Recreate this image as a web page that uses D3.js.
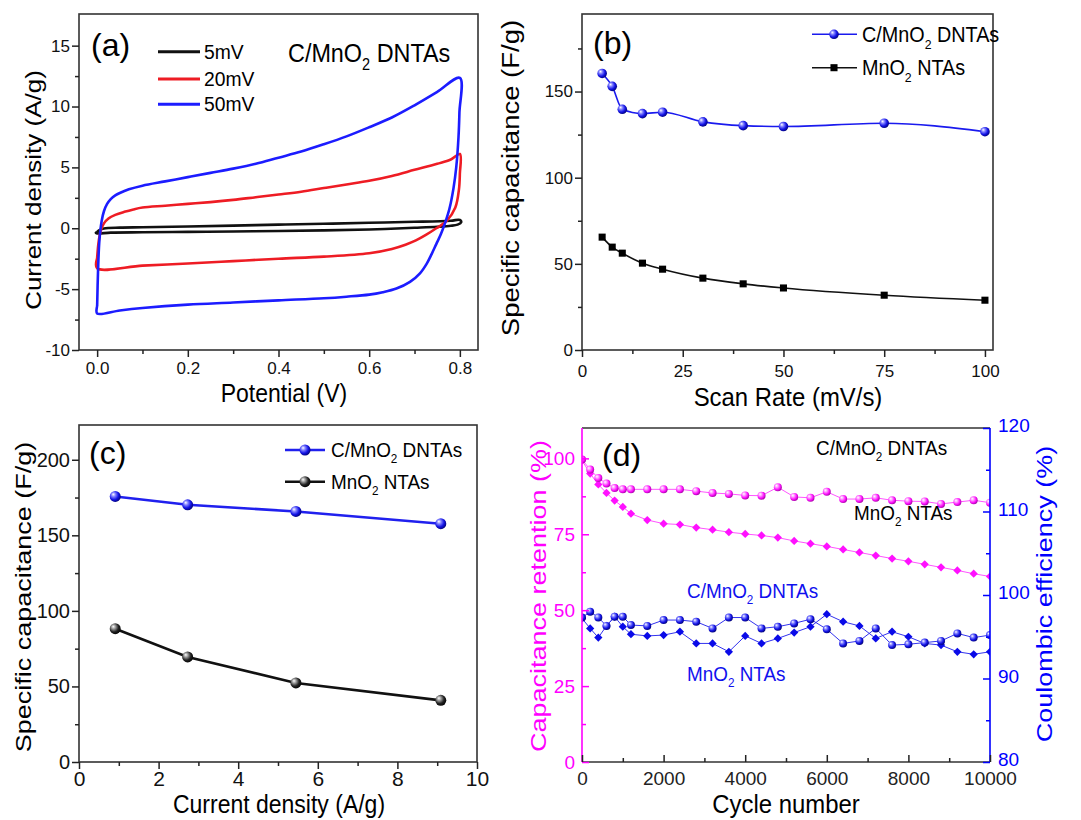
<!DOCTYPE html>
<html>
<head>
<meta charset="utf-8">
<script src="https://cdnjs.cloudflare.com/ajax/libs/d3/7.8.5/d3.min.js"></script>
<style>
  body { margin: 0; background: #fff; }
  svg { display: block; font-family: "Liberation Sans", Arial, sans-serif; }
</style>
</head>
<body>
<script>
// ---------- data ----------

// (a) cyclic voltammetry loops, [potential (V), current density (A/g)]
var cv5mV = [[0.0,-0.3],[0.005,-0.15],[0.015,-0.02],[0.05,0.05],[0.1,0.08],[0.2,0.15],[0.3,0.22],
  [0.4,0.3],[0.5,0.37],[0.6,0.45],[0.7,0.53],[0.78,0.62],[0.8,0.68],[0.803,0.5],[0.795,0.3],
  [0.78,0.2],[0.75,0.12],[0.7,0.04],[0.6,-0.1],[0.5,-0.17],[0.4,-0.22],[0.3,-0.26],[0.2,-0.3],
  [0.1,-0.33],[0.03,-0.36],[0.0,-0.42],[-0.003,-0.36],[0.0,-0.3]];
var cv20mV = [[0.0,-2.45],[0.003,-1.2],[0.008,-0.2],[0.015,0.4],[0.025,0.8],[0.04,1.1],[0.06,1.35],
  [0.08,1.55],[0.1,1.7],[0.15,1.85],[0.2,2.0],[0.25,2.15],[0.3,2.33],[0.35,2.55],[0.4,2.77],
  [0.45,3.0],[0.5,3.3],[0.55,3.6],[0.6,3.9],[0.65,4.3],[0.7,4.8],[0.75,5.3],[0.78,5.65],[0.8,6.1],
  [0.8,4.5],[0.798,3.2],[0.79,1.7],[0.771,0.6],[0.748,0.0],[0.725,-0.55],[0.703,-1.0],[0.68,-1.35],
  [0.65,-1.7],[0.6,-2.05],[0.5,-2.33],[0.4,-2.5],[0.3,-2.7],[0.2,-2.9],[0.1,-3.07],[0.0,-3.29],[0.0,-2.45]];
var cv50mV = [[0.0,-6.4],[0.002,-3.5],[0.005,-1.0],[0.01,0.6],[0.015,1.4],[0.022,2.0],[0.03,2.4],
  [0.04,2.7],[0.05,2.9],[0.07,3.2],[0.1,3.5],[0.15,3.85],[0.2,4.2],[0.25,4.55],[0.3,4.9],[0.35,5.3],
  [0.4,5.8],[0.45,6.3],[0.5,6.9],[0.55,7.55],[0.6,8.3],[0.65,9.1],[0.7,10.1],[0.75,11.2],[0.8,12.35],
  [0.799,9.5],[0.797,7.5],[0.792,5.0],[0.786,3.3],[0.777,1.6],[0.767,0.4],[0.758,-0.5],[0.748,-1.3],
  [0.738,-2.1],[0.727,-2.9],[0.712,-3.7],[0.69,-4.4],[0.66,-4.95],[0.63,-5.25],[0.6,-5.45],
  [0.55,-5.62],[0.5,-5.75],[0.4,-5.92],[0.3,-6.1],[0.2,-6.27],[0.1,-6.55],[0.05,-6.75],[0.0,-7.0],[0.0,-6.4]];

// (b) specific capacitance vs scan rate
var scanRate = [5, 7.5, 10, 15, 20, 30, 40, 50, 75, 100];
var capDntaScan = [160.5, 153, 139.7, 137.2, 138, 132.4, 130.2, 129.7, 131.6, 126.7];
var capNtaScan = [65.5, 59.7, 56.2, 50.4, 46.9, 41.7, 38.4, 36, 31.8, 28.9];

// (c) specific capacitance vs current density
var currentDensity = [0.91, 2.73, 5.45, 9.09];
var capDntaCurrent = [175.7, 170.2, 165.8, 157.7];
var capNtaCurrent = [88.2, 69.5, 52.3, 40.8];

// (d) cycling
var cycles = [0, 200, 400, 600, 800, 1000, 1200, 1600, 2000, 2400, 2800, 3200, 3600, 4000, 4400,
  4800, 5200, 5600, 6000, 6400, 6800, 7200, 7600, 8000, 8400, 8800, 9200, 9600, 10000];
var retentionDnta = [99.6, 96.3, 93.5, 91.7, 90.2, 89.8, 89.8, 89.8, 89.8, 89.8, 89.2, 88.6, 88.3, 87.8,
  87.7, 90.5, 87.3, 87.0, 89.0, 86.6, 86.6, 87.0, 86.2, 85.9, 85.8, 85.0, 85.6, 86.2, 85.4];
var retentionNta = [99.3, 95.0, 91.4, 88.6, 86.1, 84.0, 81.8, 79.7, 78.5, 78.2, 77.2, 76.5, 75.7, 75.1,
  74.6, 73.9, 72.8, 71.9, 71.0, 70.0, 69.0, 68.0, 67.0, 66.1, 65.1, 64.1, 63.1, 62.0, 61.1];
var coulombDnta = [97.3, 98.0, 97.3, 96.3, 97.4, 97.4, 96.4, 96.3, 97.0, 97.0, 96.8, 96.0, 97.3, 97.3,
  96.0, 96.2, 96.6, 97.1, 95.9, 94.2, 94.5, 96.0, 94.0, 94.1, 94.3, 94.5, 95.4, 94.9, 95.2];
var coulombNta = [97.2, 96.0, 94.9, 96.3, 97.4, 96.2, 95.3, 95.1, 95.2, 95.6, 94.2, 94.2, 93.2, 95.1,
  94.2, 94.8, 95.5, 96.2, 97.7, 96.8, 96.3, 94.8, 95.6, 95.0, 94.2, 94.0, 93.2, 92.9, 93.2];

// ---------- page ----------
var W = 1081, H = 820;
var svg = d3.select("body").append("svg").attr("width", W).attr("height", H);
var defs = svg.append("defs");

function sphereGrad(id, hi, mid, dark) {
  var gr = defs.append("radialGradient").attr("id", id)
    .attr("cx", 0.4).attr("cy", 0.4).attr("r", 0.65).attr("fx", 0.32).attr("fy", 0.3);
  gr.append("stop").attr("offset", "0%").attr("stop-color", "#fff");
  gr.append("stop").attr("offset", "30%").attr("stop-color", hi);
  gr.append("stop").attr("offset", "65%").attr("stop-color", mid);
  gr.append("stop").attr("offset", "100%").attr("stop-color", dark);
}
sphereGrad("gBlue", "#8080ff", "#1414e6", "#000070");
sphereGrad("gBlack", "#999", "#222", "#000");
sphereGrad("gPink", "#ff9cff", "#ff14ff", "#a000a0");

// text with optional subscript parts
function label(parent, x, y, parts, o) {
  o = o || {};
  var size = o.size || 20, sx = o.sx || 1;
  var tr = "translate(" + x + "," + y + ")" +
    (o.rot ? " rotate(-90) scale(1," + sx + ")" : " scale(" + sx + ",1)");
  var t = parent.append("text").attr("transform", tr)
    .attr("font-size", size).attr("fill", o.fill || "#000")
    .attr("text-anchor", o.anchor || "start");
  if (typeof parts === "string") parts = [parts];
  var shift = 0;
  parts.forEach(function(p) {
    if (typeof p === "string") {
      t.append("tspan").attr("dy", -shift).text(p);
      shift = 0;
    } else {
      t.append("tspan").attr("font-size", size * 0.62).attr("dy", size * 0.3).text(p.sub);
      shift = size * 0.3;
    }
  });
  return t;
}

// major + minor ticks through d3 axes
function ticks(axisFn, scale, major, minor, o) {
  var inner = o.inward ? -7 : 7, innerMin = o.inward ? -4 : 4;
  var gm = svg.append("g").attr("transform", o.tr)
    .call(axisFn(scale).tickValues(major).tickSize(inner).tickPadding(o.pad).tickFormat(o.fmt));
  var gn = svg.append("g").attr("transform", o.tr)
    .call(axisFn(scale).tickValues(minor).tickSize(innerMin).tickFormat(""));
  [gm, gn].forEach(function(s) {
    s.select(".domain").remove();
    s.attr("font-family", null).style("color", o.color || "#222");
    s.selectAll("line").attr("stroke-width", 1.5);
  });
  gm.attr("font-size", o.font);
  gm.selectAll("text").style("fill", o.textColor || o.color || "#111");
  return gm;
}

function frame(x0, x1, y0, y1) {
  svg.append("rect").attr("x", x0).attr("y", y0).attr("width", x1 - x0).attr("height", y1 - y0)
    .attr("fill", "none").attr("stroke", "#333").attr("stroke-width", 1.6);
}

var intFmt = function(d) { return String(d); };

// ================= (a) =================
var xa = d3.scaleLinear().domain([-0.04, 0.84]).range([79, 478]);
var ya = d3.scaleLinear().domain([-10, 17.6]).range([350, 14]);
var cvLine = d3.line().x(function(d) { return xa(d[0]); }).y(function(d) { return ya(d[1]); })
  .curve(d3.curveCatmullRom.alpha(0.5));
var cvSeries = [
  { name: "5mV", data: cv5mV, color: "#111" },
  { name: "20mV", data: cv20mV, color: "#ee1c24" },
  { name: "50mV", data: cv50mV, color: "#1c1cff" }
];
cvSeries.forEach(function(s) {
  svg.append("path").attr("d", cvLine(s.data)).attr("fill", "none")
    .attr("stroke", s.color).attr("stroke-width", 2.6).attr("stroke-linejoin", "round");
});
frame(79, 478, 14, 350);
ticks(d3.axisLeft, ya, [-10, -5, 0, 5, 10, 15], [-7.5, -2.5, 2.5, 7.5, 12.5],
  { tr: "translate(79,0)", pad: 2, fmt: intFmt, font: 17 });
ticks(d3.axisBottom, xa, [0, 0.2, 0.4, 0.6, 0.8], [0.1, 0.3, 0.5, 0.7],
  { tr: "translate(0,350)", pad: 5, fmt: d3.format(".1f"), font: 17 });
cvSeries.forEach(function(s, i) {
  var yy = [51.7, 79, 104.3][i];
  svg.append("line").attr("x1", 158).attr("x2", 200).attr("y1", yy).attr("y2", yy)
    .attr("stroke", s.color).attr("stroke-width", 3);
  label(svg, 204, yy + 7, s.name, { size: 21, sx: 0.92 });
});
label(svg, 91, 56, "(a)", { size: 32 });
label(svg, 288, 62, ["C/MnO", { sub: "2" }, " DNTAs"], { size: 26, sx: 0.9 });
label(svg, 284, 402, "Potential (V)", { size: 25, sx: 0.92, anchor: "middle" });
label(svg, 41, 190, "Current density (A/g)", { size: 26, sx: 0.85, anchor: "middle", rot: true });

// ================= (b) =================
var xb = d3.scaleLinear().domain([0, 102]).range([582, 993]);
var yb = d3.scaleLinear().domain([0, 195]).range([350, 14]);
var lineB = d3.line().x(function(d, i) { return xb(scanRate[i]); }).y(function(d) { return yb(d); })
  .curve(d3.curveMonotoneX);
svg.append("path").attr("d", lineB(capDntaScan)).attr("fill", "none").attr("stroke", "#1a1aee").attr("stroke-width", 1.6);
svg.append("path").attr("d", lineB(capNtaScan)).attr("fill", "none").attr("stroke", "#111").attr("stroke-width", 1.6);
var sq = d3.symbol().type(d3.symbolSquare).size(50);
svg.append("g").selectAll("path").data(capNtaScan).join("path")
  .attr("d", sq).attr("fill", "#000")
  .attr("transform", function(d, i) { return "translate(" + xb(scanRate[i]) + "," + yb(d) + ")"; });
svg.append("g").selectAll("circle").data(capDntaScan).join("circle")
  .attr("cx", function(d, i) { return xb(scanRate[i]); }).attr("cy", function(d) { return yb(d); })
  .attr("r", 4.8).attr("fill", "url(#gBlue)");
frame(582, 993, 14, 350);
ticks(d3.axisLeft, yb, [0, 50, 100, 150], [25, 75, 125, 175],
  { tr: "translate(582,0)", pad: 2, fmt: intFmt, font: 17 });
ticks(d3.axisBottom, xb, [0, 25, 50, 75, 100], [12.5, 37.5, 62.5, 87.5],
  { tr: "translate(0,350)", pad: 8, fmt: intFmt, font: 17 });
svg.append("line").attr("x1", 812).attr("x2", 857).attr("y1", 34.3).attr("y2", 34.3).attr("stroke", "#1a1aee").attr("stroke-width", 1.6);
svg.append("circle").attr("cx", 834).attr("cy", 34.3).attr("r", 4.8).attr("fill", "url(#gBlue)");
label(svg, 862, 42, ["C/MnO", { sub: "2" }, " DNTAs"], { size: 22, sx: 0.9 });
svg.append("line").attr("x1", 812).attr("x2", 857).attr("y1", 67.7).attr("y2", 67.7).attr("stroke", "#111").attr("stroke-width", 1.6);
svg.append("path").attr("d", sq).attr("fill", "#000").attr("transform", "translate(834,67.7)");
label(svg, 862, 75, ["MnO", { sub: "2" }, " NTAs"], { size: 22, sx: 0.9 });
label(svg, 593, 54, "(b)", { size: 32 });
label(svg, 788, 406, "Scan Rate (mV/s)", { size: 26, sx: 0.92, anchor: "middle" });
label(svg, 519, 178, "Specific capacitance (F/g)", { size: 27.5, sx: 0.85, anchor: "middle", rot: true });

// ================= (c) =================
var xc = d3.scaleLinear().domain([0, 10]).range([79, 477]);
var yc = d3.scaleLinear().domain([0, 223]).range([762, 425]);
var lineC = d3.line().x(function(d, i) { return xc(currentDensity[i]); }).y(function(d) { return yc(d); });
[[capDntaCurrent, "#2020ee", "url(#gBlue)"], [capNtaCurrent, "#111", "url(#gBlack)"]].forEach(function(s) {
  svg.append("path").attr("d", lineC(s[0])).attr("fill", "none").attr("stroke", s[1]).attr("stroke-width", 2.6);
  svg.append("g").selectAll("circle").data(s[0]).join("circle")
    .attr("cx", function(d, i) { return xc(currentDensity[i]); }).attr("cy", function(d) { return yc(d); })
    .attr("r", 5.5).attr("fill", s[2]);
});
frame(79, 477, 425, 762);
ticks(d3.axisLeft, yc, [0, 50, 100, 150, 200], [25, 75, 125, 175],
  { tr: "translate(79,0)", pad: 2, fmt: intFmt, font: 20 });
ticks(d3.axisBottom, xc, [0, 2, 4, 6, 8, 10], [1, 3, 5, 7, 9],
  { tr: "translate(0,762)", pad: 2, fmt: intFmt, font: 21 });
[[450, "#2020ee", "url(#gBlue)", ["C/MnO", { sub: "2" }, " DNTAs"]],
 [481.7, "#111", "url(#gBlack)", ["MnO", { sub: "2" }, " NTAs"]]].forEach(function(s) {
  svg.append("line").attr("x1", 285).attr("x2", 325).attr("y1", s[0]).attr("y2", s[0]).attr("stroke", s[1]).attr("stroke-width", 2.6);
  svg.append("circle").attr("cx", 305).attr("cy", s[0]).attr("r", 5.5).attr("fill", s[2]);
  label(svg, 331, s[0] + 7, s[3], { size: 21, sx: 0.9 });
});
label(svg, 89, 464, "(c)", { size: 32 });
label(svg, 279, 813, "Current density (A/g)", { size: 25, sx: 0.92, anchor: "middle" });
label(svg, 31, 597, "Specific capacitance (F/g)", { size: 27, sx: 0.85, anchor: "middle", rot: true });

// ================= (d) =================
var xd = d3.scaleLinear().domain([0, 10000]).range([582, 990]);
var ydL = d3.scaleLinear().domain([0, 110]).range([762, 428]);
var ydR = d3.scaleLinear().domain([80, 120]).range([762, 428]);
defs.append("clipPath").attr("id", "clipD").append("rect")
  .attr("x", 582).attr("y", 428).attr("width", 408).attr("height", 334);
var plotD = svg.append("g").attr("clip-path", "url(#clipD)");
var dia = d3.symbol().type(d3.symbolSquare).size(34);
function cycleSeries(vals, yScale, lineColor, fill, shape) {
  var ln = d3.line().x(function(d, i) { return xd(cycles[i]); }).y(function(d) { return yScale(d); });
  plotD.append("path").attr("d", ln(vals)).attr("fill", "none").attr("stroke", lineColor).attr("stroke-width", 1);
  var pts = plotD.append("g");
  if (shape === "diamond") {
    pts.selectAll("path").data(vals).join("path").attr("d", dia).attr("fill", fill)
      .attr("transform", function(d, i) { return "translate(" + xd(cycles[i]) + "," + yScale(d) + ") rotate(45)"; });
  } else {
    pts.selectAll("circle").data(vals).join("circle")
      .attr("cx", function(d, i) { return xd(cycles[i]); }).attr("cy", function(d) { return yScale(d); })
      .attr("r", 4).attr("fill", fill);
  }
}
cycleSeries(retentionNta, ydL, "#ff55ff", "#ff10ff", "diamond");
cycleSeries(retentionDnta, ydL, "#ff55ff", "url(#gPink)", "circle");
cycleSeries(coulombNta, ydR, "#3333ee", "#0a0ae8", "diamond");
cycleSeries(coulombDnta, ydR, "#3333ee", "url(#gBlue)", "circle");

svg.append("line").attr("x1", 582).attr("x2", 990).attr("y1", 428).attr("y2", 428).attr("stroke", "#333").attr("stroke-width", 1.6);
svg.append("line").attr("x1", 582).attr("x2", 990).attr("y1", 762).attr("y2", 762).attr("stroke", "#333").attr("stroke-width", 1.6);
svg.append("line").attr("x1", 582).attr("x2", 582).attr("y1", 428).attr("y2", 762).attr("stroke", "#ff00ff").attr("stroke-width", 1.6);
svg.append("line").attr("x1", 990).attr("x2", 990).attr("y1", 428).attr("y2", 762).attr("stroke", "#0000ff").attr("stroke-width", 1.6);
ticks(d3.axisLeft, ydL, [0, 25, 50, 75, 100], [12.5, 37.5, 62.5, 87.5],
  { tr: "translate(582,0)", pad: 7, fmt: intFmt, font: 19, inward: true, color: "#ff00ff" });
var rightAx = ticks(d3.axisRight, ydR, [80, 90, 100, 110, 120], [85, 95, 105, 115],
  { tr: "translate(990,0)", pad: 8, fmt: intFmt, font: 19, inward: true, color: "#0000ff" });
rightAx.selectAll("text").attr("dy", "0.2em");
ticks(d3.axisBottom, xd, [0, 2000, 4000, 6000, 8000, 10000], [1000, 3000, 5000, 7000, 9000],
  { tr: "translate(0,762)", pad: 10, fmt: intFmt, font: 19, inward: true, color: "#222" });
label(svg, 602, 466, "(d)", { size: 32 });
label(svg, 816, 455, ["C/MnO", { sub: "2" }, " DNTAs"], { size: 21, sx: 0.9 });
label(svg, 854, 520, ["MnO", { sub: "2" }, " NTAs"], { size: 21, sx: 0.9 });
label(svg, 687, 598, ["C/MnO", { sub: "2" }, " DNTAs"], { size: 21, sx: 0.9, fill: "#1010ee" });
label(svg, 687, 681, ["MnO", { sub: "2" }, " NTAs"], { size: 21, sx: 0.9, fill: "#1010ee" });
label(svg, 786, 813, "Cycle number", { size: 26, sx: 0.92, anchor: "middle" });
label(svg, 546, 596, "Capacitance retention (%)", { size: 27, sx: 0.85, anchor: "middle", rot: true, fill: "#ff00ff" });
label(svg, 1052, 594, "Coulombic efficiency (%)", { size: 27, sx: 0.85, anchor: "middle", rot: true, fill: "#0000ff" });
</script>
</body>
</html>
